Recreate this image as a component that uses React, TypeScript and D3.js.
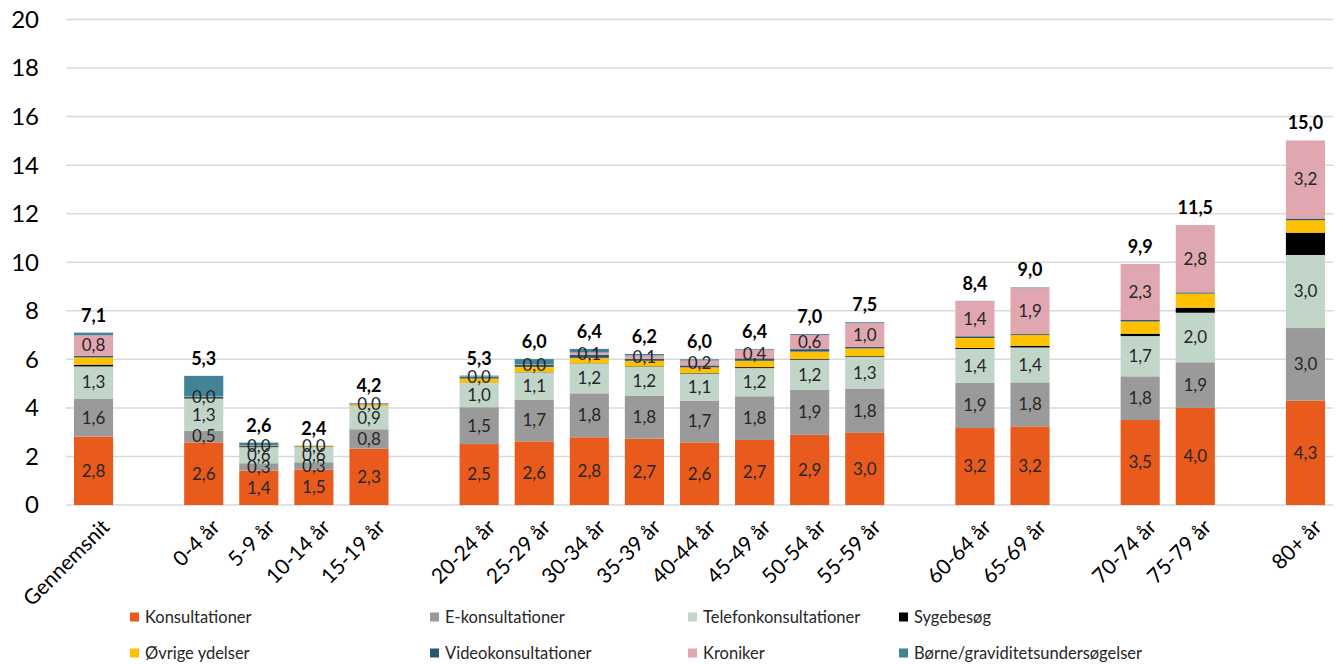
import React from "react";
import * as d3 from "d3";

const categories = [
  "Gennemsnit",
  "0-4 år", "5-9 år", "10-14 år", "15-19 år",
  "20-24 år", "25-29 år", "30-34 år", "35-39 år", "40-44 år", "45-49 år", "50-54 år", "55-59 år",
  "60-64 år", "65-69 år",
  "70-74 år", "75-79 år",
  "80+ år",
];
// index after which an empty slot appears
const gapsAfter = [0, 4, 12, 14, 16];

const seriesNames = [
  "Konsultationer",
  "E-konsultationer",
  "Telefonkonsultationer",
  "Sygebesøg",
  "Øvrige ydelser",
  "Videokonsultationer",
  "Kroniker",
  "Børne/graviditetsundersøgelser",
];
const seriesColors = ["#E95B1D", "#9A9A9A", "#C1D5C9", "#000000", "#FFC000", "#2B5670", "#E0A7B1", "#428395"];
const labelledSeries = [true, true, true, false, false, false, true, false];

const konsultationer = [2.82, 2.58, 1.42, 1.46, 2.32, 2.51, 2.62, 2.79, 2.73, 2.58, 2.68, 2.89, 2.97, 3.17, 3.24, 3.5, 4.0, 4.3];
const eKonsultationer = [1.56, 0.48, 0.3, 0.3, 0.8, 1.52, 1.72, 1.81, 1.78, 1.72, 1.8, 1.86, 1.83, 1.86, 1.81, 1.8, 1.88, 2.99];
const telefon = [1.33, 1.3, 0.64, 0.6, 0.94, 1.0, 1.12, 1.23, 1.18, 1.12, 1.16, 1.24, 1.3, 1.4, 1.44, 1.66, 2.04, 3.01];
const sygebesoeg = [0.07, 0.0, 0.0, 0.0, 0.0, 0.01, 0.01, 0.01, 0.02, 0.02, 0.04, 0.03, 0.03, 0.04, 0.07, 0.1, 0.21, 0.92];
const oevrige = [0.3, 0.02, 0.02, 0.03, 0.06, 0.17, 0.22, 0.22, 0.23, 0.23, 0.26, 0.3, 0.32, 0.41, 0.44, 0.5, 0.58, 0.51];
const video = [0.07, 0.07, 0.05, 0.02, 0.02, 0.06, 0.08, 0.12, 0.08, 0.08, 0.1, 0.1, 0.06, 0.07, 0.04, 0.06, 0.05, 0.07];
const kroniker = [0.84, 0.02, 0.02, 0.01, 0.02, 0.02, 0.02, 0.1, 0.14, 0.2, 0.36, 0.58, 0.98, 1.45, 1.89, 2.3, 2.77, 3.22];
const boerne = [0.11, 0.85, 0.12, 0.02, 0.03, 0.04, 0.22, 0.15, 0.06, 0.05, 0.03, 0.04, 0.04, 0.01, 0.03, 0.01, 0.0, 0.0];

const yTicks = [0, 2, 4, 6, 8, 10, 12, 14, 16, 18, 20];

const seriesValues = [konsultationer, eKonsultationer, telefon, sygebesoeg, oevrige, video, kroniker, boerne];

const W = 1343;
const H = 664;
const FONT = "Lato, 'Open Sans', sans-serif";
const fmt = (v: number) => v.toFixed(1).replace(".", ",");

export default function App() {
  const slots: string[] = [];
  categories.forEach((c, i) => {
    slots.push(c);
    if (gapsAfter.includes(i)) slots.push(`__gap${i}`);
  });

  const x = d3.scaleBand<string>().domain(slots).range([66, 1333]).paddingInner(0.29).paddingOuter(0.145);
  const y = d3.scaleLinear().domain([0, 20]).range([505, 19.5]);

  const rows = categories.map((c, i) => {
    const r: any = { cat: c };
    seriesNames.forEach((s, k) => (r[s] = seriesValues[k][i]));
    return r;
  });
  const stack = d3.stack<any>().keys(seriesNames)(rows);

  const legendCols = [130, 430, 688, 899];
  const legendRows = [617, 653];

  return (
    <svg width={W} height={H} style={{ position: "absolute", left: 0, top: 0, background: "#fff" }} fontFamily={FONT}>
      {yTicks.map((t) => (
        <g key={t}>
          <line x1={66} x2={1333} y1={y(t)} y2={y(t)} stroke="#D9D9D9" strokeWidth={1.5} />
          <text x={39} y={y(t)} dy="0.35em" textAnchor="end" fontSize={24} fill="#000">
            {t}
          </text>
        </g>
      ))}
      {stack.map((layer, k) => (
        <g key={seriesNames[k]} fill={seriesColors[k]}>
          {layer.map((d, i) => {
            const x0 = x(categories[i])!;
            const h = y(d[0]) - y(d[1]);
            if (h <= 0) return null;
            return <rect key={i} x={x0} y={y(d[1])} width={x.bandwidth()} height={h} />;
          })}
        </g>
      ))}
      {stack.map((layer, k) =>
        labelledSeries[k] ? (
          <g key={"l" + k}>
            {layer.map((d, i) => (
              <text
                key={i}
                x={x(categories[i])! + x.bandwidth() / 2}
                y={y((d[0] + d[1]) / 2)}
                dy="0.35em"
                textAnchor="middle"
                fontSize={17}
                fill="#262626"
              >
                {fmt(seriesValues[k][i])}
              </text>
            ))}
          </g>
        ) : null
      )}
      {categories.map((c, i) => {
        const total = seriesValues.reduce((s, arr) => s + arr[i], 0);
        return (
          <text
            key={"t" + c}
            x={x(c)! + x.bandwidth() / 2}
            y={y(total) - 11}
            textAnchor="middle"
            fontSize={18}
            fontWeight="bold"
            fill="#000"
          >
            {fmt(total)}
          </text>
        );
      })}
      {categories.map((c) => {
        const cx = x(c)! + x.bandwidth() / 2 + 7;
        return (
          <text
            key={"x" + c}
            transform={`translate(${cx},${518}) rotate(-45)`}
            textAnchor="end"
            dy="0.7em"
            fontSize={21}
            fill="#000"
          >
            {c}
          </text>
        );
      })}
      {seriesNames.map((s, k) => {
        const col = k % 4;
        const row = Math.floor(k / 4);
        const lx = legendCols[col];
        const ly = legendRows[row];
        return (
          <g key={"lg" + s}>
            <rect x={lx} y={ly - 4.5} width={9} height={9} fill={seriesColors[k]} />
            <text x={lx + 15} y={ly} dy="0.35em" fontSize={16.5} fill="#262626">
              {s}
            </text>
          </g>
        );
      })}
    </svg>
  );
}
